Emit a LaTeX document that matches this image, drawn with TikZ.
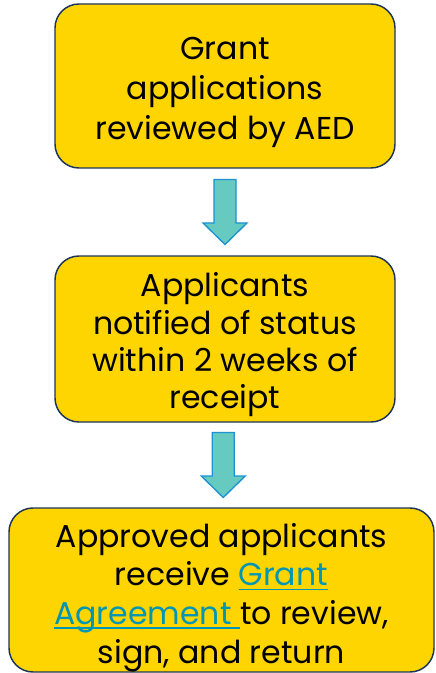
\documentclass[tikz,border=0pt]{standalone}
\usepackage{fontspec}
\setmainfont{Poppins}
\usetikzlibrary{calc,positioning}
\definecolor{boxgold}{RGB}{255,213,0}
\definecolor{boxline}{RGB}{28,52,88}
\definecolor{arrowfill}{RGB}{102,202,192}
\definecolor{arrowline}{RGB}{28,146,210}
\definecolor{linkteal}{RGB}{0,150,180}
\newcommand{\lnk}[1]{{\color{linkteal}\setbox0\hbox{#1}\rlap{\rule[-3.4pt]{\wd0}{1.3pt}}\box0}}

\begin{document}
\begin{tikzpicture}[x=0.75pt,y=-0.75pt,
	stepbox/.style={draw=boxline,line width=1.1pt,fill=boxgold,rounded corners=18pt,inner sep=0pt},
	steptext/.style={align=center,inner sep=0pt,font=\fontsize{23.7}{#1}\selectfont},
	downarrow/.style={draw=arrowline,line width=1pt,fill=arrowfill}]
	\useasboundingbox (0,0) rectangle (435,673);
	\node[stepbox,minimum width=255pt,minimum height=123pt] (b1) at (225,86) {};
	\node[steptext=30pt] (t1) at ([yshift=-4.5pt]b1.center)
	{Grant\\applications\\reviewed by AED};
	\node[stepbox,minimum width=255pt,minimum height=124.5pt] (b2) at (225,339) {};
	\node[steptext=28pt] (t2) at ([yshift=-4.5pt]b2.center)
	{Applicants\\notified of status\\within 2 weeks of\\receipt};
	\node[stepbox,minimum width=318.75pt,minimum height=123pt] (b3) at (221.5,590) {};
	\node[steptext=29pt] (t3) at ([yshift=-5.5pt]b3.center)
	{Approved applicants\\receive \lnk{Grant}\\\lnk{Agreement\ }to review,\\sign, and return};
	% arrows between the steps
	\foreach \a/\b [count=\i] in {b1/b2,b2/b3}{
		\coordinate (m\i) at ($(\a.south)!0.5!(\b.north)$);
		\draw[downarrow] ($(m\i)+(-11,-32.5)$) -- ++(22,0) -- ++(0,43.5) -- ++(11,0)
		-- ++(-22,21.5) -- ++(-22,-21.5) -- ++(11,0) -- cycle;
	}
\end{tikzpicture}
\end{document}
